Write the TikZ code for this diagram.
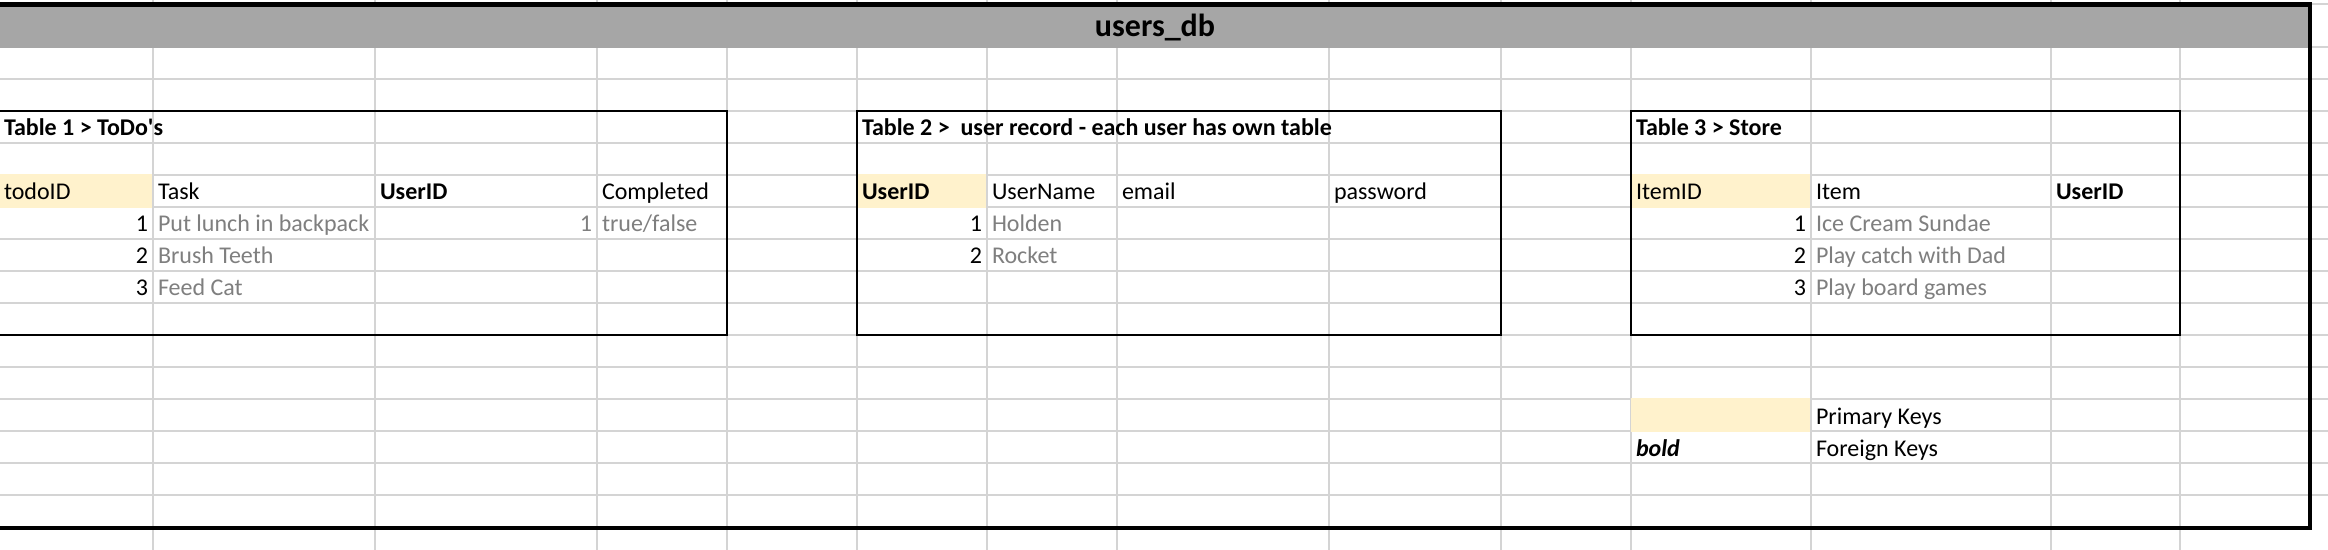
\documentclass[tikz,border=0pt]{standalone}
\usepackage{fontspec}
\setmainfont{Carlito}
\definecolor{gridc}{HTML}{D4D4D4}
\definecolor{bandc}{HTML}{A6A6A6}
\definecolor{keyc}{HTML}{FFF2CC}
\definecolor{valc}{HTML}{7F7F7F}
\begin{document}
\begin{tikzpicture}[x=0.5pt,y=-0.5pt,
  gridline/.style={draw=gridc,line width=0.75pt},
  cell/.style={inner sep=0pt,outer sep=0pt,font=\fontsize{12}{14}\selectfont,text=black},
  lt/.style={cell,anchor=base west},
  rt/.style={cell,anchor=base east},
  hd/.style={font=\fontsize{12}{14}\selectfont\bfseries},
  val/.style={text=valc},
  tbox/.style={draw=black,line width=1pt},
  outerframe/.style={draw=black,line width=2.25pt},
  keyfill/.style={fill=keyc},
]
\useasboundingbox (0,0) rectangle (2328,550);
\clip (0,0) rectangle (2328,550);
\fill[white] (0,0) rectangle (2328,550);
% spreadsheet grid
\foreach \y in {4,47,79,111,143,175,207,239,271,303,335,367,399,431,463,495}
  \draw[gridline] (0,\y) -- (2328,\y);
\foreach \x in {153,375,597,727,857,987,1117,1329,1501,1631,1811,2051,2180}
  \draw[gridline] (\x,0) -- (\x,550);
% title band
\fill[bandc] (-5,4) rectangle (2310,47.6);
% key cells
\fill[keyfill] (-5,174.3) rectangle (152.3,207.7);
\fill[keyfill] (857,174.3) rectangle (986.3,207.7);
\fill[keyfill] (1631,174.3) rectangle (1810.3,207.7);
\fill[keyfill] (1631,398.3) rectangle (1810.3,431.7);
% borders
\draw[tbox] (-5,111) -- (727,111) -- (727,335) -- (-5,335);
\draw[tbox] (857,111) rectangle (1501,335);
\draw[tbox] (1631,111) rectangle (2180,335);
\draw[outerframe] (-5,4.3) -- (2310,4.3) -- (2310,528) -- (-5,528);
% title
\node[cell,anchor=base,font=\fontsize{16}{19}\selectfont\bfseries] (title) at (1155,36.5) {users\_db};
% Table 1
\node[lt,hd] (t1) at (4,136) {Table 1 > ToDo\textquotesingle s};
\node[lt] (t1h1) at (4,200) {todoID};
\node[lt] (t1h2) at (158,200) {Task};
\node[lt,hd] (t1h3) at (380,200) {UserID};
\node[lt] (t1h4) at (602,200) {Completed};
\node[rt] (t1r1n) at (148,232) {1};
\node[lt,val] (t1r1t) at (158,232) {Put lunch in backpack};
\node[rt,val] (t1r1u) at (592,232) {1};
\node[lt,val] (t1r1c) at (602,232) {true/false};
\node[rt] (t1r2n) at (148,264) {2};
\node[lt,val] (t1r2t) at (158,264) {Brush Teeth};
\node[rt] (t1r3n) at (148,296) {3};
\node[lt,val] (t1r3t) at (158,296) {Feed Cat};
% Table 2
\node[lt,hd] (t2) at (862,136) {Table 2 >\ \ user record - each user has own table};
\node[lt,hd] (t2h1) at (862,200) {UserID};
\node[lt] (t2h2) at (992,200) {UserName};
\node[lt] (t2h3) at (1122,200) {email};
\node[lt] (t2h4) at (1334,200) {password};
\node[rt] (t2r1n) at (982,232) {1};
\node[lt,val] (t2r1t) at (992,232) {Holden};
\node[rt] (t2r2n) at (982,264) {2};
\node[lt,val] (t2r2t) at (992,264) {Rocket};
% Table 3
\node[lt,hd] (t3) at (1636,136) {Table 3 > Store};
\node[lt] (t3h1) at (1636,200) {ItemID};
\node[lt] (t3h2) at (1816,200) {Item};
\node[lt,hd] (t3h3) at (2056,200) {UserID};
\node[rt] (t3r1n) at (1806,232) {1};
\node[lt,val] (t3r1t) at (1816,232) {Ice Cream Sundae};
\node[rt] (t3r2n) at (1806,264) {2};
\node[lt,val] (t3r2t) at (1816,264) {Play catch with Dad};
\node[rt] (t3r3n) at (1806,296) {3};
\node[lt,val] (t3r3t) at (1816,296) {Play board games};
% legend
\node[lt] (lg1) at (1816,424) {Primary Keys};
\node[lt,font=\fontsize{12}{14}\selectfont\bfseries\itshape] (lg2b) at (1636,456) {bold};
\node[lt] (lg2) at (1816,456) {Foreign Keys};
\end{tikzpicture}
\end{document}
